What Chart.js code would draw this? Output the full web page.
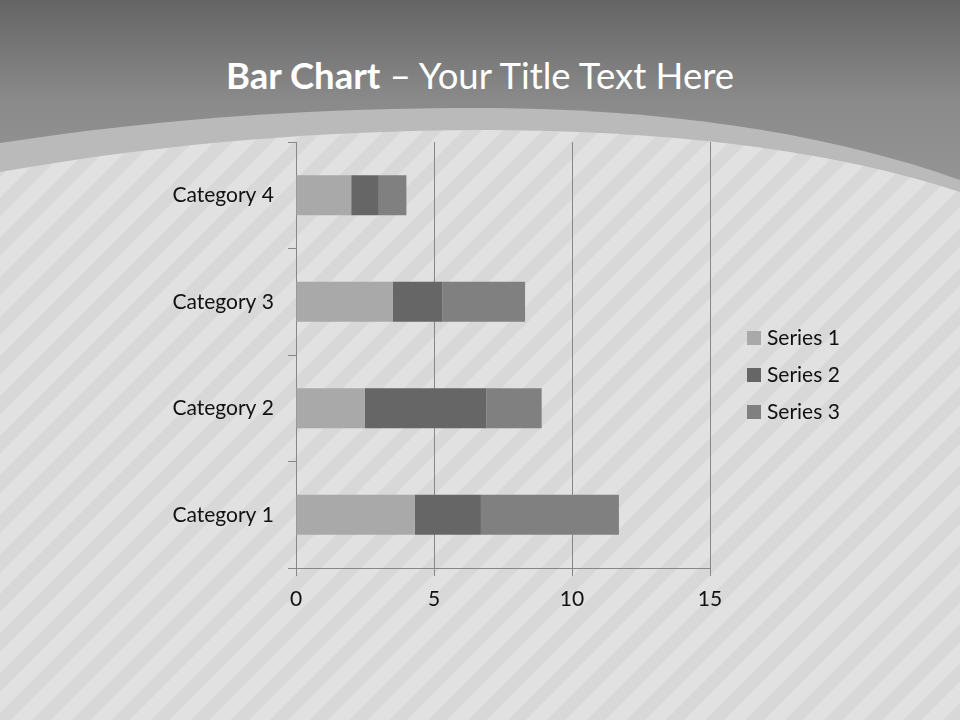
<!DOCTYPE html>
<html>
<head>
<meta charset="utf-8">
<script src="https://cdn.jsdelivr.net/npm/chart.js@4"></script>
<style>
  html, body { margin: 0; padding: 0; }
  body { width: 960px; height: 720px; position: relative; overflow: hidden; font-family: Lato, sans-serif; }
  #bg { position: absolute; left: 0; top: 0; }
  #title {
    position: absolute; left: 0; top: 51px; width: 960px; text-align: center;
    color: #fff; font-size: 36.5px; line-height: 48px;
  }
  #title b { font-weight: 700; }
  #chart { position: absolute; left: 0; top: 0; }
</style>
</head>
<body>
<svg id="bg" width="960" height="720" viewBox="0 0 960 720">
  <defs>
    <linearGradient id="top" gradientUnits="userSpaceOnUse" x1="0" y1="0" x2="0" y2="200">
      <stop offset="0" stop-color="#656565"/>
      <stop offset="0.5" stop-color="#8a8a8a"/>
      <stop offset="1" stop-color="#979797"/>
    </linearGradient>
    <pattern id="stripes" width="28" height="28" patternUnits="userSpaceOnUse" patternTransform="rotate(45)">
      <rect width="28" height="28" fill="#e1e1e1"/>
      <rect width="13" height="28" fill="#d8d8d8"/>
    </pattern>
  </defs>
  <rect width="960" height="720" fill="url(#top)"/>
  <path d="M0,143 C150,120 300,108 480,108 C650,108 820,130 960,180 L960,720 L0,720 Z" fill="#bababa"/>
  <path d="M0,172 C150,146 300,131 480,130 C650,130 820,146 960,192 L960,720 L0,720 Z" fill="url(#stripes)"/>
</svg>
<div id="title"><b>Bar Chart</b> – Your Title Text Here</div>
<canvas id="chart" width="960" height="720"></canvas>
<script>
const categories = ["Category 1", "Category 2", "Category 3", "Category 4"];
const seriesNames = ["Series 1", "Series 2", "Series 3"];
const series1 = [4.3, 2.5, 3.5, 2];
const series2 = [2.4, 4.4, 1.8, 1];
const series3 = [5, 2, 3, 1];
const seriesColors = ["#a9a9a9", "#666666", "#808080"];
const xTicks = [0, 5, 10, 15];

const fontFamily = "Lato, sans-serif";

// legend drawn by hand to sit where the slide has it
const sideLegend = {
  id: "sideLegend",
  afterDraw(chart) {
    const ctx = chart.ctx;
    ctx.save();
    ctx.font = "21px " + fontFamily;
    ctx.textBaseline = "middle";
    chart.data.datasets.forEach((ds, i) => {
      const y = 338 + i * 37;
      ctx.fillStyle = ds.backgroundColor;
      ctx.fillRect(747, y - 7, 14, 14);
      ctx.fillStyle = "#111";
      ctx.fillText(ds.label, 767, y);
    });
    ctx.restore();
  }
};

new Chart(document.getElementById("chart"), {
  type: "bar",
  data: {
    labels: categories,
    datasets: [series1, series2, series3].map((vals, i) => ({
      label: seriesNames[i],
      data: vals,
      backgroundColor: seriesColors[i],
      barPercentage: 0.5,
      categoryPercentage: 0.75
    }))
  },
  options: {
    indexAxis: "y",
    responsive: false,
    animation: false,
    layout: { padding: { top: 142, right: 250, left: 0, bottom: 0 } },
    plugins: { legend: { display: false }, tooltip: { enabled: false } },
    scales: {
      x: {
        stacked: true,
        min: 0,
        max: 15,
        afterBuildTicks: (s) => { s.ticks = xTicks.map(v => ({ value: v })); },
        afterFit: (s) => { s.height = 152; },
        grid: { color: "#878787", lineWidth: 1, tickLength: 8 },
        border: { color: "#878787" },
        ticks: { color: "#111", padding: 11, font: { size: 21, family: fontFamily } }
      },
      y: {
        stacked: true,
        reverse: true,
        afterFit: (s) => { s.width = 296; },
        grid: { color: "#878787", drawOnChartArea: false, tickLength: 8, offset: true },
        border: { color: "#878787" },
        ticks: { color: "#111", padding: 14, font: { size: 21, family: fontFamily } }
      }
    }
  },
  plugins: [sideLegend]
});
</script>
</body>
</html>
